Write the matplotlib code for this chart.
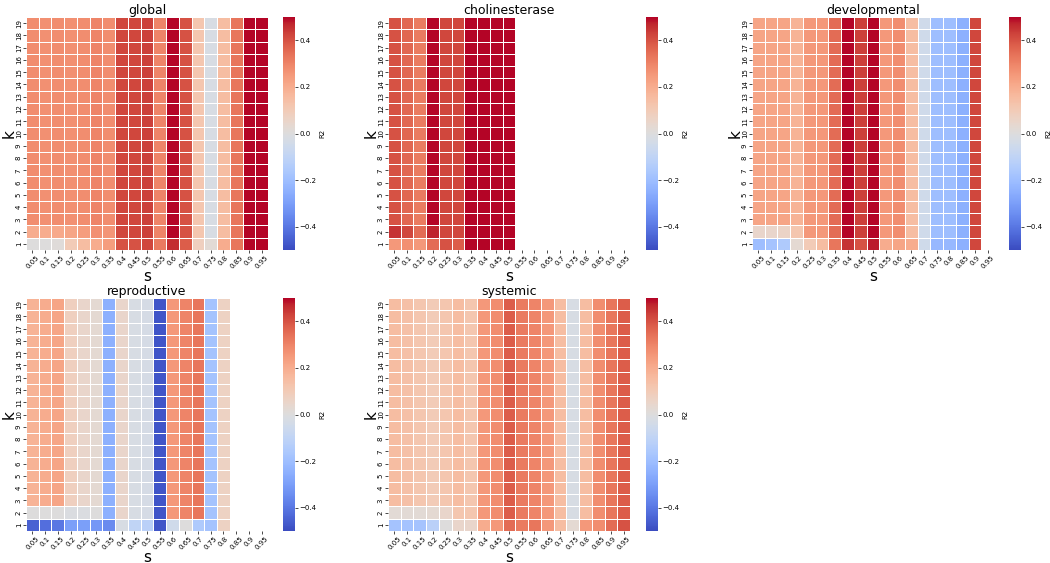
import matplotlib
matplotlib.use("Agg")
import matplotlib.pyplot as plt
import numpy as np
import pandas as pd
import seaborn as sns

s_vals = [0.05, 0.1, 0.15, 0.2, 0.25, 0.3, 0.35, 0.4, 0.45, 0.5,
          0.55, 0.6, 0.65, 0.7, 0.75, 0.8, 0.85, 0.9, 0.95]
k_vals = list(range(1, 20))
nan = np.nan

# R2 per s for k >= 3, then the k=2 and k=1 rows
global_base = [0.28, 0.27, 0.28, 0.27, 0.28, 0.30, 0.28, 0.42, 0.42, 0.43,
               0.30, 0.50, 0.40, 0.12, -0.02, 0.15, 0.33, 0.50, 0.50]
global_k2 = [0.20, 0.20, 0.21, 0.22, 0.24, 0.27, 0.26, 0.42, 0.42, 0.43,
             0.30, 0.50, 0.40, 0.12, -0.02, 0.15, 0.33, 0.50, 0.50]
global_k1 = [0.0, 0.0, 0.01, 0.10, 0.15, 0.20, 0.24, 0.40, 0.40, 0.42,
             0.32, 0.46, 0.38, 0.08, 0.02, 0.20, 0.33, 0.50, 0.50]

chol_base = [0.40, 0.36, 0.32, 0.50, 0.42, 0.42, 0.50, 0.50, 0.50, 0.50,
             nan, nan, nan, nan, nan, nan, nan, nan, nan]
chol_k2 = [0.45, 0.42, 0.35, 0.47, 0.42, 0.42, 0.50, 0.50, 0.50, 0.50,
           nan, nan, nan, nan, nan, nan, nan, nan, nan]
chol_k1 = [0.25, 0.27, 0.25, 0.35, 0.40, 0.38, 0.50, 0.50, 0.50, 0.50,
           nan, nan, nan, nan, nan, nan, nan, nan, nan]

dev_base = [0.22, 0.22, 0.22, 0.18, 0.25, 0.25, 0.35, 0.50, 0.43, 0.50,
            0.25, 0.28, 0.15, -0.05, -0.20, -0.20, -0.25, 0.42, nan]
dev_k2 = [0.05, 0.05, 0.06, 0.12, 0.25, 0.25, 0.35, 0.50, 0.43, 0.50,
          0.25, 0.28, 0.15, -0.05, -0.20, -0.20, -0.25, 0.42, nan]
dev_k1 = [-0.20, -0.18, -0.15, 0.03, 0.10, 0.15, 0.33, 0.45, 0.40, 0.48,
          0.20, 0.22, 0.20, -0.05, -0.22, -0.22, -0.25, 0.42, nan]

repro_base = [0.18, 0.20, 0.22, 0.08, 0.05, 0.03, -0.25, 0.05, -0.02, -0.03,
              -0.48, 0.25, 0.30, 0.33, -0.18, 0.07, nan, nan, nan]
repro_k2 = [0.0, 0.0, 0.0, -0.01, -0.01, 0.0, -0.25, 0.05, -0.02, -0.03,
            -0.48, 0.25, 0.30, 0.33, -0.18, 0.07, nan, nan, nan]
repro_k1 = [-0.45, -0.42, -0.40, -0.30, -0.30, -0.32, -0.35, -0.02, -0.10, -0.12,
            -0.48, -0.05, 0.0, -0.15, -0.18, 0.07, nan, nan, nan]

sys_base = [0.15, 0.14, 0.12, 0.10, 0.12, 0.15, 0.12, 0.25, 0.28, 0.38,
            0.32, 0.30, 0.25, 0.15, -0.02, 0.15, 0.28, 0.33, 0.38]
sys_k2 = [0.02, 0.02, 0.02, 0.03, 0.05, 0.12, 0.12, 0.25, 0.28, 0.38,
          0.32, 0.30, 0.25, 0.15, -0.02, 0.15, 0.28, 0.33, 0.38]
sys_k1 = [-0.18, -0.18, -0.18, -0.12, 0.0, 0.05, 0.05, 0.20, 0.25, 0.35,
          0.32, 0.33, 0.25, 0.15, 0.03, 0.25, 0.28, 0.35, 0.40]

panels = [
    ("global", global_base, global_k2, global_k1),
    ("cholinesterase", chol_base, chol_k2, chol_k1),
    ("developmental", dev_base, dev_k2, dev_k1),
    ("reproductive", repro_base, repro_k2, repro_k1),
    ("systemic", sys_base, sys_k2, sys_k1),
]

W, H = 1050, 563
fig = plt.figure(figsize=(W / 100, H / 100), dpi=100)

# pixel boxes (left, top) of each heatmap and its colorbar
hm_pos = [(26, 17), (388, 17), (752, 17), (26, 298), (388, 298)]
cb_x = [283, 646, 1009, 283, 646]
hm_w, hm_h = 242, 233


def px_axes(x, y, w, h):
    return fig.add_axes([x / W, 1 - (y + h) / H, w / W, h / H])


for (name, base, k2, k1), (x0, y0), cx in zip(panels, hm_pos, cb_x):
    rows = [k1, k2] + [base] * 17
    df = pd.DataFrame(rows, index=k_vals, columns=s_vals)
    ax = px_axes(x0, y0, hm_w, hm_h)
    cax = px_axes(cx, y0, 12, hm_h)
    sns.heatmap(df, ax=ax, cbar_ax=cax, cmap="coolwarm", vmin=-0.5, vmax=0.5,
                linewidths=0.7, linecolor="white", cbar_kws={"label": "R2"},
                xticklabels=True, yticklabels=True)
    ax.invert_yaxis()
    ax.set_title(name, fontsize=9, pad=1)
    ax.set_xlabel("s", fontsize=11)
    ax.set_ylabel("k", fontsize=11)
    ax.xaxis.set_label_coords(0.5, -19 / hm_h)
    ax.yaxis.set_label_coords(-9.5 / hm_w, 0.5)
    ax.set_xticklabels([str(v) for v in s_vals], rotation=45, fontsize=5)
    ax.set_yticklabels([str(v) for v in k_vals], rotation=90, fontsize=5, va="center")
    ax.tick_params(length=2, width=0.5, pad=1)
    cax.set_yticks([-0.4, -0.2, 0.0, 0.2, 0.4])
    cax.tick_params(labelsize=5, length=2, width=0.5, pad=1)
    cax.set_ylabel("R2", fontsize=5, labelpad=2)

fig.savefig("out.png", dpi=100)
